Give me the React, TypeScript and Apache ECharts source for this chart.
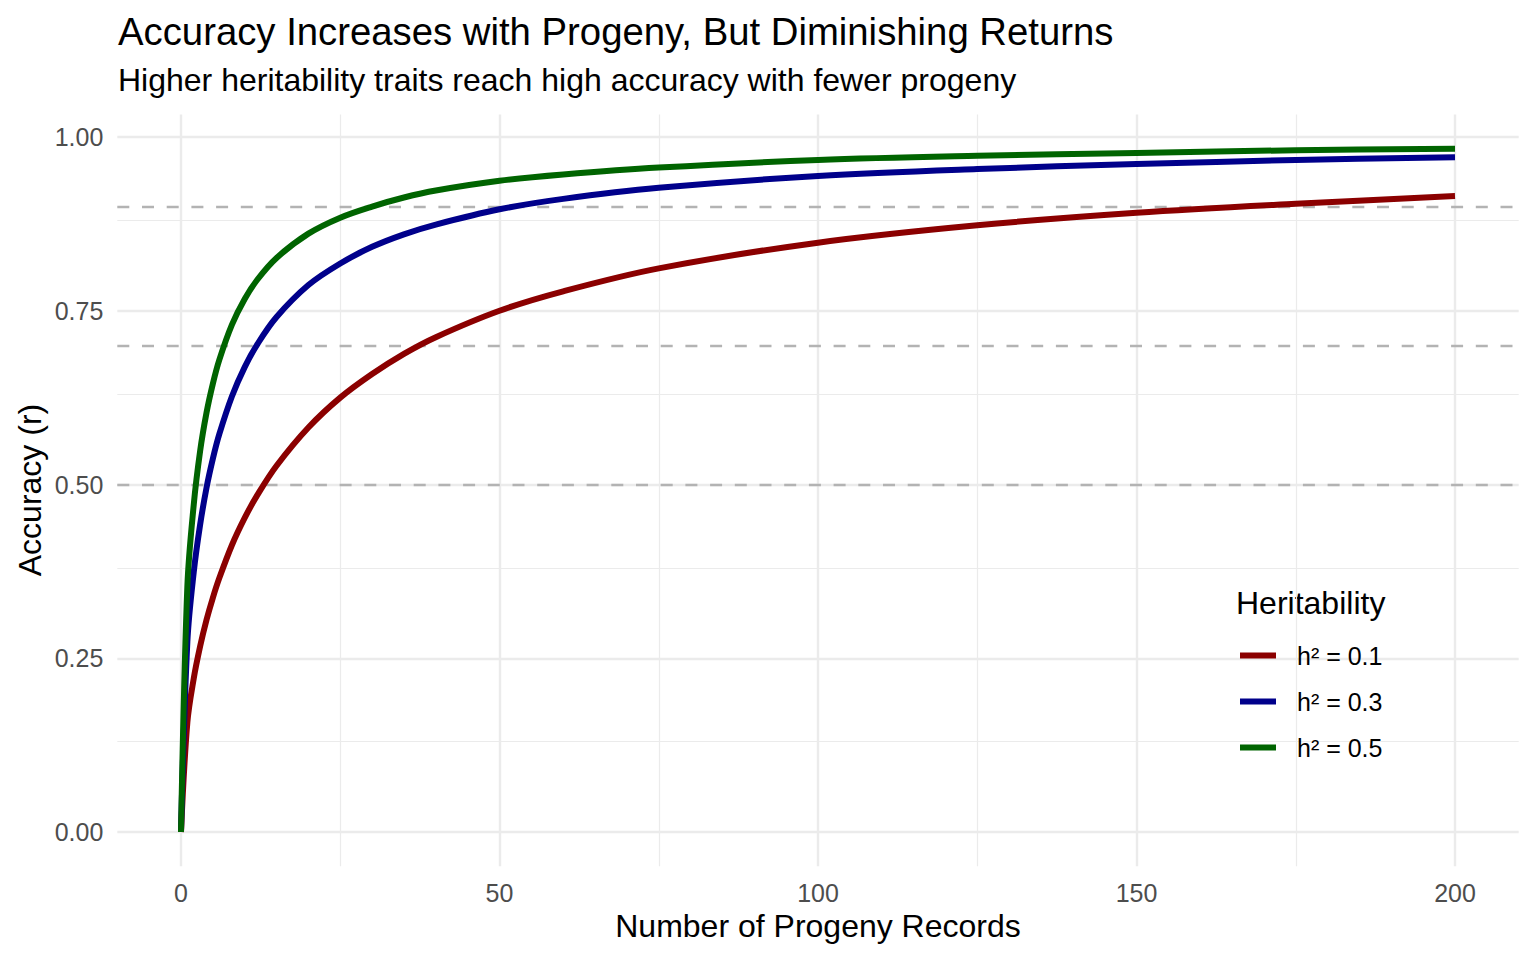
import React, { useEffect, useRef } from "react";
import * as echarts from "echarts";

// Number of progeny records (x) and accuracy (r)
const nValues = [0, 1, 2, 3, 4, 5, 6, 8, 10, 12, 15, 20, 25, 30, 35, 40, 50, 60, 75, 100, 125, 150, 175, 200];
const accH01 = [0, 0.158, 0.221, 0.267, 0.305, 0.337, 0.365, 0.413, 0.452, 0.485, 0.527, 0.582, 0.625, 0.659, 0.688, 0.712, 0.75, 0.778, 0.811, 0.848, 0.873, 0.891, 0.904, 0.915];
const accH03 = [0, 0.274, 0.374, 0.442, 0.495, 0.537, 0.572, 0.627, 0.669, 0.702, 0.741, 0.787, 0.818, 0.842, 0.86, 0.874, 0.896, 0.911, 0.927, 0.944, 0.954, 0.961, 0.967, 0.971];
const accH05 = [0, 0.354, 0.471, 0.548, 0.603, 0.645, 0.679, 0.73, 0.767, 0.795, 0.826, 0.861, 0.884, 0.9, 0.913, 0.923, 0.937, 0.946, 0.956, 0.967, 0.973, 0.977, 0.981, 0.983];

const seriesNames = ["h² = 0.1", "h² = 0.3", "h² = 0.5"];
const seriesColors = ["#8B0000", "#00008B", "#006400"];

const xMajor = [0, 50, 100, 150, 200];
const xMinor = [25, 75, 125, 175];
const yMajor = [0, 0.25, 0.5, 0.75, 1.0];
const yMinor = [0.125, 0.375, 0.625, 0.875];
const refLines = [0.5, 0.7, 0.9];

const X_MIN = -10;
const X_MAX = 210;
const Y_MIN = -0.0492;
const Y_MAX = 1.0324;

const FONT = '"Liberation Sans", Arial, Helvetica, sans-serif';

export default function App() {
  const ref = useRef<HTMLDivElement>(null);

  useEffect(() => {
    const chart = echarts.init(ref.current as HTMLDivElement, null, { renderer: "svg" });

    const pair = (ys: number[]) => nValues.map((n, i) => [n, ys[i]]);
    const curves = [accH01, accH03, accH05];

    const gridLines: any[] = [];
    yMinor.forEach((v) => gridLines.push({ yAxis: v, lineStyle: { color: "#EBEBEB", width: 1.2, type: "solid" } }));
    xMinor.forEach((v) => gridLines.push({ xAxis: v, lineStyle: { color: "#EBEBEB", width: 1.2, type: "solid" } }));
    yMajor.forEach((v) => gridLines.push({ yAxis: v, lineStyle: { color: "#EBEBEB", width: 2.4, type: "solid" } }));
    xMajor.forEach((v) => gridLines.push({ xAxis: v, lineStyle: { color: "#EBEBEB", width: 2.4, type: "solid" } }));

    const option: any = {
      animation: false,
      textStyle: { fontFamily: FONT },
      grid: { left: 117.3, right: 17.3, top: 114.5, bottom: 93.8, containLabel: false },
      xAxis: {
        type: "value",
        min: X_MIN,
        max: X_MAX,
        axisLine: { show: false },
        axisTick: { show: false },
        splitLine: { show: false },
        axisLabel: {
          customValues: xMajor,
          fontSize: 25,
          color: "#4D4D4D",
          margin: 14,
          fontFamily: FONT,
          formatter: (v: number) => String(v),
        },
      },
      yAxis: {
        type: "value",
        min: Y_MIN,
        max: Y_MAX,
        axisLine: { show: false },
        axisTick: { show: false },
        splitLine: { show: false },
        axisLabel: {
          customValues: yMajor,
          fontSize: 25,
          color: "#4D4D4D",
          margin: 14,
          fontFamily: FONT,
          formatter: (v: number) => v.toFixed(2),
        },
      },
      legend: {
        data: seriesNames,
        orient: "vertical",
        left: 1240,
        top: 643,
        padding: 0,
        itemWidth: 36,
        itemHeight: 6,
        itemGap: 21,
        icon: "rect",
        selectedMode: false,
        textStyle: { fontSize: 25, color: "#000", fontFamily: FONT, padding: [0, 0, 0, 16] },
      },
      graphic: [
        {
          type: "text",
          x: 118,
          y: 31,
          style: { text: "Accuracy Increases with Progeny, But Diminishing Returns", font: `38.3px ${FONT}`, fill: "#000", verticalAlign: "middle", align: "left" },
        },
        {
          type: "text",
          x: 118,
          y: 80,
          style: { text: "Higher heritability traits reach high accuracy with fewer progeny", font: `32px ${FONT}`, fill: "#000", verticalAlign: "middle", align: "left" },
        },
        {
          type: "text",
          x: 818,
          y: 926,
          style: { text: "Number of Progeny Records", font: `32px ${FONT}`, fill: "#000", verticalAlign: "middle", align: "center" },
        },
        {
          type: "text",
          x: 30,
          y: 490,
          rotation: Math.PI / 2,
          style: { text: "Accuracy (r)", font: `32px ${FONT}`, fill: "#000", verticalAlign: "middle", align: "center" },
        },
        {
          type: "text",
          x: 1236,
          y: 603,
          style: { text: "Heritability", font: `32px ${FONT}`, fill: "#000", verticalAlign: "middle", align: "left" },
        },
      ],
      series: [
        {
          type: "line",
          name: "_grid",
          data: [[0, 0]],
          showSymbol: false,
          symbol: "none",
          lineStyle: { width: 0, opacity: 0 },
          silent: true,
          z: 0,
          markLine: { z: 0, silent: true, symbol: "none", label: { show: false }, data: gridLines, animation: false },
        },
        {
          type: "line",
          name: "_ref",
          data: [[0, 0]],
          showSymbol: false,
          symbol: "none",
          lineStyle: { width: 0, opacity: 0 },
          silent: true,
          z: 1,
          markLine: {
            z: 1,
            silent: true,
            symbol: "none",
            label: { show: false },
            animation: false,
            lineStyle: { color: "#B3B3B3", width: 2.4, type: [12, 12.7] },
            data: refLines.map((v) => ({ yAxis: v })),
          },
        },
        ...curves.map((ys, i) => ({
          type: "line",
          name: seriesNames[i],
          data: pair(ys),
          color: seriesColors[i],
          smooth: 0.35,
          showSymbol: false,
          symbol: "none",
          lineStyle: { width: 6, color: seriesColors[i], cap: "butt", join: "round" },
          itemStyle: { color: seriesColors[i] },
          z: 3,
        })),
      ],
    };

    chart.setOption(option);
    return () => chart.dispose();
  }, []);

  return <div ref={ref} style={{ position: "absolute", left: 0, top: 0, width: 1536, height: 960 }} />;
}
